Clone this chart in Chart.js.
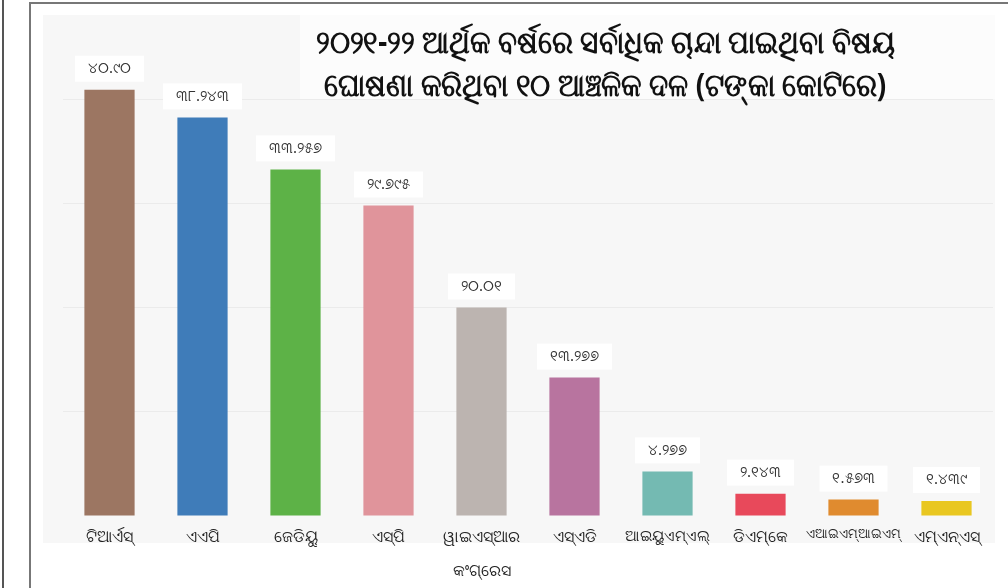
<!DOCTYPE html>
<html>
<head>
<meta charset="utf-8">
<script src="https://cdn.jsdelivr.net/npm/chart.js@4.4.1/dist/chart.umd.min.js"></script>
<style>
  html, body { margin: 0; padding: 0; background: #fff; }
  body { width: 1008px; height: 588px; position: relative; overflow: hidden; font-family: "Noto Sans", sans-serif; }
  .line { position: absolute; background: #555; }
  #panel { position: absolute; left: 43px; top: 15px; width: 952px; height: 528px; background: #f7f7f7; }
  #titlebox { position: absolute; left: 300px; top: 15px; width: 695px; height: 84px; background: #fcfcfc; }
  #title { position: absolute; left: 255px; top: 19px; width: 700px; text-align: center; white-space: nowrap;
           font-size: 32px; font-weight: bold; line-height: 43px; color: #111;
           transform: scaleX(0.87); transform-origin: 50% 0; }
  #wrap { position: absolute; left: 0; top: 0; width: 1008px; height: 588px; }
</style>
</head>
<body>
<div class="line" style="left:2px;top:0;width:2px;height:588px;"></div>
<div class="line" style="left:29px;top:2px;width:2px;height:586px;background:#777;"></div>
<div class="line" style="left:29px;top:2px;width:979px;height:2px;background:#777;"></div>
<div id="panel"></div>
<div id="titlebox"></div>
<div id="wrap"><canvas id="chart" width="1008" height="588"></canvas></div>
<div id="title">୨୦୨୧-୨୨ ଆର୍ଥିକ ବର୍ଷରେ ସର୍ବାଧିକ ଚାନ୍ଦା ପାଇଥିବା ବିଷୟ<br>ଘୋଷଣା କରିଥିବା ୧୦ ଆଞ୍ଚଳିକ ଦଳ (ଟଙ୍କା କୋଟିରେ)</div>
<script>
const parties = [
    'ଟିଆର୍ଏସ୍', 'ଏଏପି', 'ଜେଡିୟୁ', 'ଏସ୍ପି', ['ୱାଇଏସ୍ଆର', 'କଂଗ୍ରେସ'],
    'ଏସ୍ଏଡି', 'ଆଇୟୁଏମ୍ଏଲ୍', 'ଡିଏମ୍କେ', 'ଏଆଇଏମ୍ଆଇଏମ୍', 'ଏମ୍ଏନ୍ଏସ୍'
];
const donations = [40.90, 38.243, 33.257, 29.795, 20.01, 13.277, 4.277, 2.143, 1.573, 1.439];
const valueLabels = ['୪୦.୯୦', '୩୮.୨୪୩', '୩୩.୨୫୭', '୨୯.୭୯୫', '୨୦.୦୧', '୧୩.୨୭୭', '୪.୨୭୭', '୨.୧୪୩', '୧.୫୭୩', '୧.୪୩୯'];
const barColors = ['#9c7662', '#3f7cb9', '#5db247', '#e0949b', '#bcb4b0', '#b8749f', '#74bab2', '#e8495b', '#e08b2f', '#e9c721'];

const valueLabelPlugin = {
    id: 'valueLabels',
    afterDatasetsDraw(chart) {
        const c = chart.ctx;
        const meta = chart.getDatasetMeta(0);
        c.save();
        c.font = '15px "Noto Sans", sans-serif';
        c.textAlign = 'center';
        c.textBaseline = 'middle';
        meta.data.forEach((bar, i) => {
            const txt = valueLabels[i];
            const w = c.measureText(txt).width + 26;
            const y = bar.y - 21;
            c.fillStyle = '#ffffff';
            c.fillRect(bar.x - w / 2, y - 13, w, 26);
            c.fillStyle = '#333';
            c.fillText(txt, bar.x, y);
        });
        c.restore();
    }
};

const ctx = document.getElementById('chart').getContext('2d');
const chart = new Chart(ctx, {
    type: 'bar',
    data: {
        labels: parties,
        datasets: [{
            data: donations,
            backgroundColor: barColors,
            borderWidth: 0,
            barPercentage: 0.54,
            categoryPercentage: 1
        }]
    },
    options: {
        responsive: false,
        animation: false,
        devicePixelRatio: 1,
        layout: { padding: { left: 63, right: 15, top: 47, bottom: 0 } },
        plugins: { legend: { display: false }, tooltip: { enabled: false } },
        scales: {
            x: {
                grid: { display: false, drawTicks: false },
                border: { display: false },
                ticks: {
                    color: '#222',
                    font: c => ({
                        size: c.index === 8 ? 13 : (c.index === 6 ? 15 : 16),
                        family: '"Noto Sans", sans-serif',
                        lineHeight: 2.1
                    }),
                    padding: 5,
                    maxRotation: 0,
                    autoSkip: false
                },
                afterFit: s => { s.height = 72; }
            },
            y: {
                min: 0,
                max: 45,
                ticks: { display: false, stepSize: 10 },
                border: { display: false },
                grid: {
                    drawTicks: false,
                    color: c => (c.tick.value % 10 === 0 && c.tick.value > 0) ? '#ebebeb' : 'rgba(0,0,0,0)'
                },
                afterFit: s => { s.width = 0; }
            }
        }
    },
    plugins: [valueLabelPlugin]
});
</script>
</body>
</html>
